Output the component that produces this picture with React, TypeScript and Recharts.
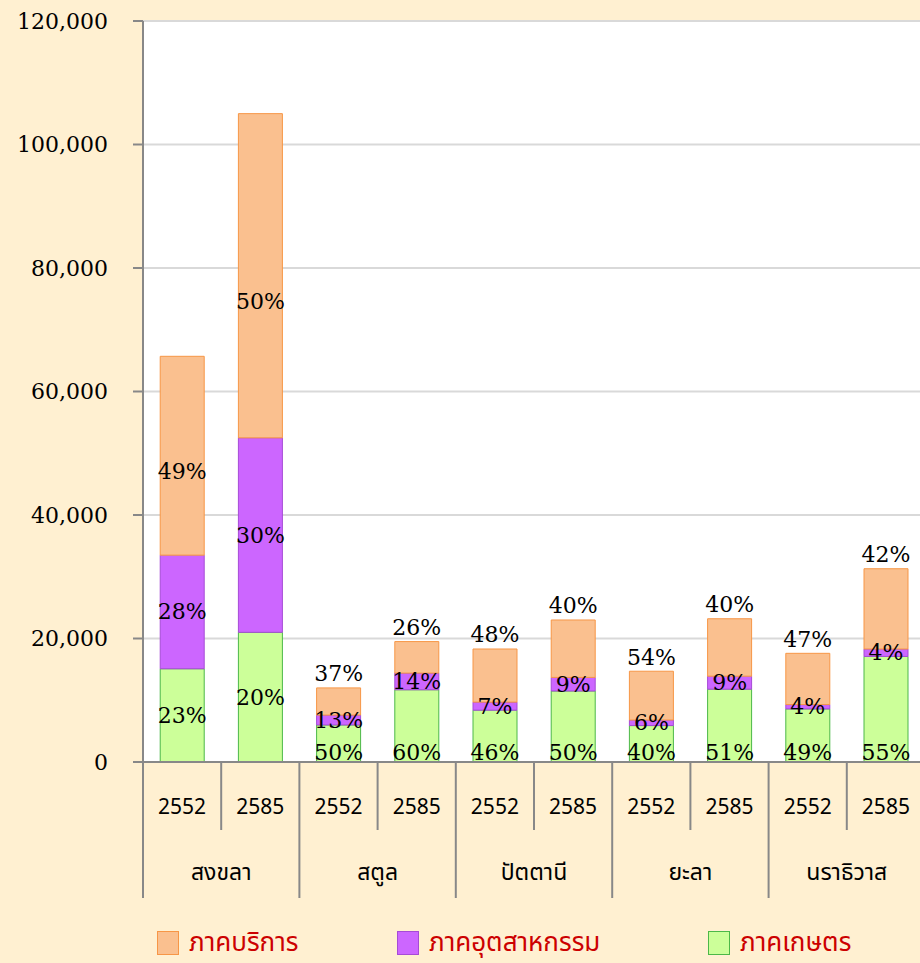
import { BarChart, Bar, XAxis, YAxis, CartesianGrid, LabelList, Legend } from 'recharts';

const provinces = ['สงขลา', 'สตูล', 'ปัตตานี', 'ยะลา', 'นราธิวาส'];
const years = ['2552', '2585'];

// values per bar, in order สงขลา 2552, สงขลา 2585, สตูล 2552, ...
const agriculture = [15100, 21000, 6000, 11700, 8400, 11500, 5900, 11800, 8600, 17100];
const industry = [18400, 31500, 1600, 2700, 1300, 2200, 900, 2100, 700, 1200];
const services = [32200, 52500, 4400, 5100, 8600, 9300, 7900, 9300, 8300, 13000];

const agriPct = [23, 20, 50, 60, 46, 50, 40, 51, 49, 55];
const indPct = [28, 30, 13, 14, 7, 9, 6, 9, 4, 4];
const servPct = [49, 50, 37, 26, 48, 40, 54, 40, 47, 42];

const yTicks = [0, 20000, 40000, 60000, 80000, 100000, 120000];

const seriesNames = {
    agriculture: 'ภาคเกษตร',
    industry: 'ภาคอุตสาหกรรม',
    services: 'ภาคบริการ'
};
const legendOrder = ['services', 'industry', 'agriculture'];

const data = agriculture.map((_, i) => ({
    year: years[i % 2],
    province: provinces[Math.floor(i / 2)],
    agriculture: agriculture[i],
    industry: industry[i],
    services: services[i]
}));

const SERIF = "'DejaVu Serif', serif";
const THAI = "'Noto Sans Thai', 'Noto Sans', sans-serif";

const pctText = (x: number, y: number, text: string) => (
    <text x={x} y={y} textAnchor="middle" dominantBaseline="central" fontFamily={SERIF} fontSize={22} fill="#000">
        {text}
    </text>
);

// green labels sit on the base when the purple segment above is thin
const AgriLabel = ({ x, y, width, height, index }: any) => {
    const cy = industry[index] < 5000 ? y + height - 10 : y + height / 2;
    return pctText(x + width / 2, cy, `${agriPct[index]}%`);
};

const IndLabel = ({ x, y, width, height, index }: any) =>
    pctText(x + width / 2, y + height / 2, `${indPct[index]}%`);

// orange labels go above the bar unless the segment is tall
const ServLabel = ({ x, y, width, height, index }: any) => {
    const cy = height > 100 ? y + height * 0.58 : y - 14;
    return pctText(x + width / 2, cy, `${servPct[index]}%`);
};

const CategoryTick = ({ x, y, payload, index }: any) => {
    const half = payload.offset || 39;
    const first = index % 2 === 0;
    return (
        <g>
            {index === 0 && <line x1={x - half} y1={y} x2={x - half} y2={y + 136} stroke="#888" strokeWidth={2} />}
            <line x1={x + half} y1={y} x2={x + half} y2={y + (first ? 68 : 136)} stroke="#888" strokeWidth={2} />
            <text x={x} y={y + 45} textAnchor="middle" dominantBaseline="central" fontFamily={THAI} fontSize={21} fill="#000">
                {payload.value}
            </text>
            {!first && (
                <text x={x - half} y={y + 111} textAnchor="middle" dominantBaseline="central" fontFamily={THAI} fontSize={23} fill="#000">
                    {data[index].province}
                </text>
            )}
        </g>
    );
};

const LegendContent = ({ payload }: any) => {
    const items = [...(payload || [])].sort(
        (a: any, b: any) => legendOrder.indexOf(a.dataKey) - legendOrder.indexOf(b.dataKey)
    );
    const widths = [240, 311, 200];
    return (
        <div style={{ display: 'flex', paddingLeft: 157, height: 40, alignItems: 'center' }}>
            {items.map((entry: any, i: number) => (
                <div key={entry.value} style={{ display: 'flex', alignItems: 'center', width: widths[i] }}>
                    <span
                        style={{
                            width: 22,
                            height: 24,
                            background: entry.payload?.fill || entry.color,
                            border: `1px solid ${entry.payload?.stroke || entry.color}`,
                            marginRight: 10,
                            boxSizing: 'border-box'
                        }}
                    />
                    <span style={{ fontFamily: THAI, fontSize: 26, color: '#cc0000' }}>{entry.value}</span>
                </div>
            ))}
        </div>
    );
};

export default function App() {
    return (
        <div style={{ position: 'fixed', left: 0, top: 0, width: 920, height: 963, overflow: 'hidden', background: '#fff0d1' }}>
            <BarChart
                width={930}
                height={963}
                data={data}
                barCategoryGap="22%"
                margin={{ top: 21, right: 5, left: 0, bottom: 0 }}
            >
                <CartesianGrid vertical={false} stroke="#d9d9d9" strokeWidth={2} fill="#ffffff" />
                <XAxis
                    dataKey="year"
                    height={161}
                    tickSize={0}
                    tickMargin={0}
                    interval={0}
                    axisLine={{ stroke: '#888', strokeWidth: 2 }}
                    tick={<CategoryTick />}
                />
                <YAxis
                    width={143}
                    domain={[0, 120000]}
                    ticks={yTicks}
                    interval={0}
                    tickSize={10}
                    tickMargin={25}
                    tickFormatter={(v: number) => v.toLocaleString('en-US')}
                    axisLine={{ stroke: '#888', strokeWidth: 2 }}
                    tickLine={{ stroke: '#888', strokeWidth: 2 }}
                    tick={{ fontFamily: SERIF, fontSize: 22, fill: '#000' }}
                />
                <Legend verticalAlign="bottom" wrapperStyle={{ left: 0, bottom: 0, width: 920 }} content={<LegendContent />} />
                <Bar dataKey="agriculture" name={seriesNames.agriculture} stackId="a" fill="#ccff99" stroke="#4cb848" strokeWidth={1} isAnimationActive={false}>
                    <LabelList dataKey="agriculture" content={<AgriLabel />} />
                </Bar>
                <Bar dataKey="industry" name={seriesNames.industry} stackId="a" fill="#cc66ff" stroke="#a64bd6" strokeWidth={1} isAnimationActive={false}>
                    <LabelList dataKey="industry" content={<IndLabel />} />
                </Bar>
                <Bar dataKey="services" name={seriesNames.services} stackId="a" fill="#fac08f" stroke="#f79646" strokeWidth={1} isAnimationActive={false}>
                    <LabelList dataKey="services" content={<ServLabel />} />
                </Bar>
            </BarChart>
        </div>
    );
}
